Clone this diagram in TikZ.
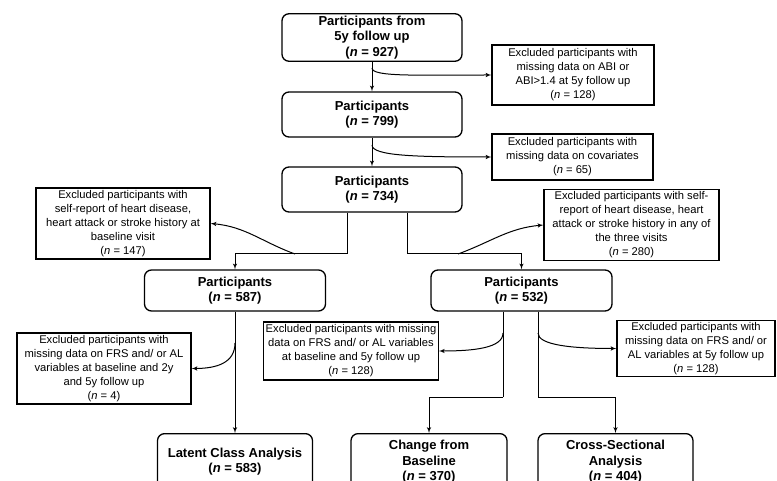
\documentclass[tikz,border=0pt]{standalone}
\usepackage{fontspec}
\setmainfont{Liberation Sans}
\usetikzlibrary{shapes,arrows}
\tikzstyle{group} = [rectangle, draw, line width=1.3pt, rounded corners=7pt,
    align=center, inner sep=2pt, minimum width=180pt,
    font=\fontsize{13}{15.7}\selectfont\bfseries]
\tikzstyle{excl} = [rectangle, draw, line width=1.1pt, align=center,
    inner sep=2pt, font=\fontsize{11.2}{14}\selectfont]
\tikzstyle{line} = [draw, line width=1pt, -latex']

\begin{document}
\begin{tikzpicture}[x=1pt, y=1pt]
    \useasboundingbox (0,0) rectangle (777,-481);
    \clip (0,0) rectangle (777,-481);
    % Place nodes
    \node [group, minimum height=47pt] (start) at (372,-37.5) {Participants from\\5y follow up\\(\textit{n} = 927)};
    \node [group, below of=start, node distance=77pt, minimum height=45pt] (p799) {Participants\\(\textit{n} = 799)};
    \node [group, below of=p799, node distance=75pt, minimum height=45pt] (p734) {Participants\\(\textit{n} = 734)};
    \node [excl, minimum width=162pt, minimum height=60pt] (exabi) at (573,-75) {Excluded participants with\\missing data on ABI or\\ABI>1.4 at 5y follow up\\(\textit{n} = 128)};
    \node [excl, minimum width=161pt, minimum height=46pt] (excov) at (572.5,-157) {Excluded participants with\\missing data on covariates\\(\textit{n} = 65)};
    \node [excl, minimum width=174pt, minimum height=71pt] (exbase) at (123,-223.5) {Excluded participants with\\self-report of heart disease,\\heart attack or stroke history at\\baseline visit\\(\textit{n} = 147)};
    \node [excl, minimum width=175pt, minimum height=70pt] (exany) at (631.5,-225) {Excluded participants with self-\\report of heart disease, heart\\attack or stroke history in any of\\the three visits\\(\textit{n} = 280)};
    \node [group, minimum width=181pt, minimum height=41pt] (p587) at (235,-290.5) {Participants\\(\textit{n} = 587)};
    \node [group, minimum width=181pt, minimum height=41pt] (p532) at (521.5,-290.5) {Participants\\(\textit{n} = 532)};
    \node [excl, minimum width=174pt, minimum height=71pt] (exlca) at (104,-368.5) {Excluded participants with\\missing data on FRS and/ or AL\\variables at baseline and 2y\\and 5y follow up\\(\textit{n} = 4)};
    \node [excl, minimum width=174pt, minimum height=58pt] (exchange) at (351,-351) {Excluded participants with missing\\data on FRS and/ or AL variables\\at baseline and 5y follow up\\(\textit{n} = 128)};
    \node [excl, minimum width=158pt, minimum height=55pt] (excross) at (696,-348.5) {Excluded participants with\\missing data on FRS and/ or\\AL variables at 5y follow up\\(\textit{n} = 128)};
    \node [group, anchor=north, minimum width=155pt, minimum height=56pt] (lca) at (235,-433) {Latent Class Analysis\\(\textit{n} = 583)};
    \node [group, anchor=north, minimum width=156pt, minimum height=56pt] (change) at (429,-433) {Change from\\Baseline\\(\textit{n} = 370)};
    \node [group, anchor=north, minimum width=155pt, minimum height=56pt] (cross) at (615.5,-433) {Cross-Sectional\\Analysis\\(\textit{n} = 404)};
    % Branch points
    \coordinate (b1) at (372,-68);
    \coordinate (b2) at (372,-145);
    \coordinate (c1) at (347,-254);
    \coordinate (c2) at (407,-254);
    \coordinate (b3) at (295,-254);
    \coordinate (b4) at (458,-254);
    \coordinate (b5) at (235,-343);
    \coordinate (e1) at (503,-397);
    \coordinate (e2) at (538,-397);
    \coordinate (b6) at (503,-333);
    \coordinate (b7) at (538,-333);
    \path [line] (start) -- (p799);
    \path [line] (p799) -- (p734);
    \path [line] (b1) .. controls +(0,-9) and +(-75,0) .. (exabi.west);
    \path [line] (b2) .. controls +(0,-11) and +(-75,0) .. (excov.west);
    \path [draw, line width=1pt] (p734.south -| c1) -- (c1);
    \path [line] (c1) -| (p587);
    \path [draw, line width=1pt] (p734.south -| c2) -- (c2);
    \path [line] (c2) -| (p532);
    \path [line] (b3) to[out=160, in=-5] (exbase.east);
    \path [line] (b4) to[out=20, in=185] (exany.west);
    \path [line] (p587) -- (lca);
    \path [line] (b5) .. controls +(0,-20) and +(25,0) .. (exlca.east);
    \path [draw, line width=1pt] (p532.south -| e1) -- (e1);
    \path [line] (e1) -| (change);
    \path [draw, line width=1pt] (p532.south -| e2) -- (e2);
    \path [line] (e2) -| (cross);
    \path [line] (b6) .. controls +(0,-15) and +(35,0) .. (exchange.east);
    \path [line] (b7) .. controls +(0,-12) and +(-45,0) .. (excross.west);
\end{tikzpicture}
\end{document}
